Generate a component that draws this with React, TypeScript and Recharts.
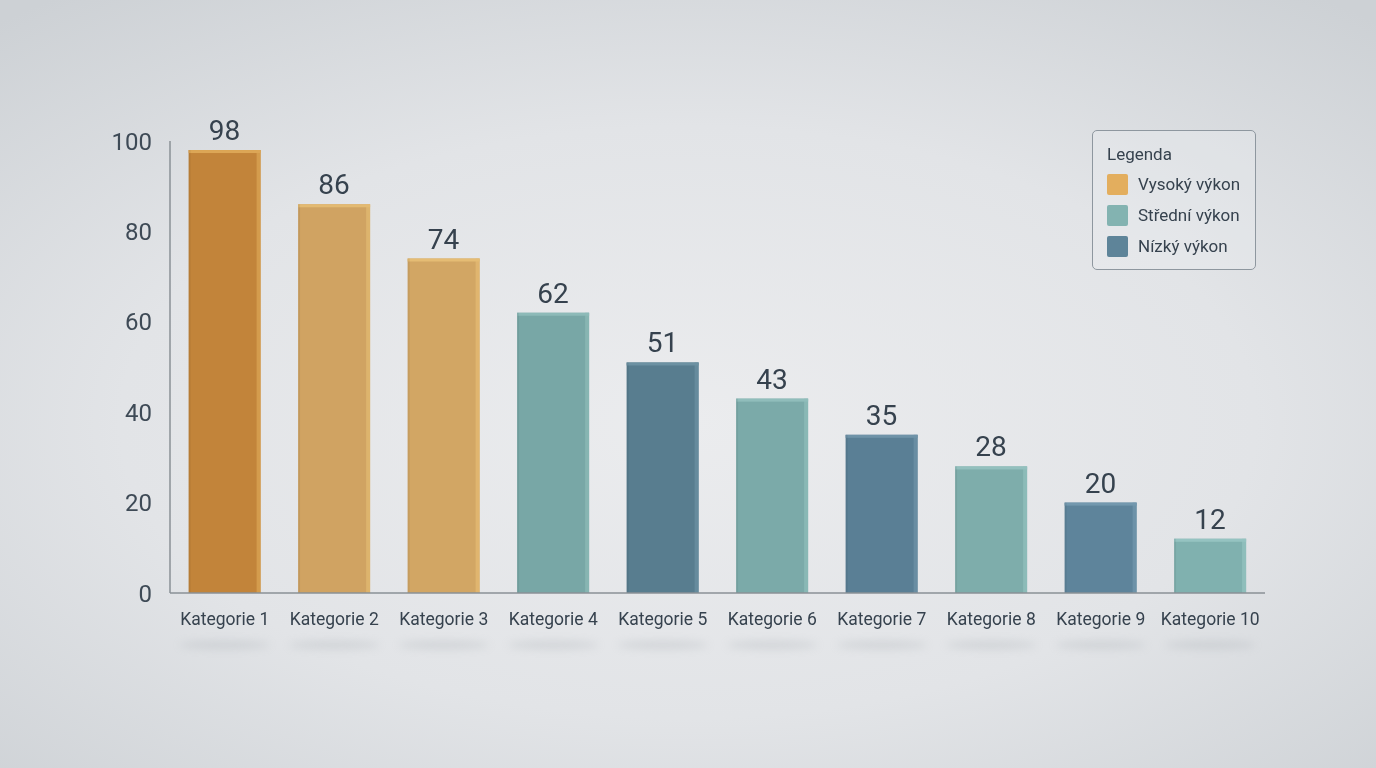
import React from 'react';
import { BarChart, Bar, XAxis, YAxis, Cell, LabelList, Legend } from 'recharts';

const categories = ['Kategorie 1', 'Kategorie 2', 'Kategorie 3', 'Kategorie 4', 'Kategorie 5', 'Kategorie 6', 'Kategorie 7', 'Kategorie 8', 'Kategorie 9', 'Kategorie 10'];
const values = [98, 86, 74, 62, 51, 43, 35, 28, 20, 12];
const groups = ['high', 'high', 'high', 'mid', 'low', 'mid', 'low', 'mid', 'low', 'mid'];
const yTicks = [0, 20, 40, 60, 80, 100];
const legendLabels = ['Vysoký výkon', 'Střední výkon', 'Nízký výkon'];

const barFills = ['#C2843A', '#D0A362', '#D2A664', '#78A7A6', '#587D8F', '#7BAAA9', '#5A7F95', '#7EADAB', '#5E849B', '#80B1AF'];
const barEdges = ['#DCA656', '#E3BA72', '#E5BC74', '#8DBAB8', '#6C91A2', '#90BDBB', '#6F93A8', '#93C0BE', '#7398AE', '#95C3C1'];
const legendColors = ['#E3AE5E', '#83B3B1', '#5E8499'];

const data = categories.map((c, i) => ({ name: c, value: values[i], group: groups[i] }));

const FONT = 'Roboto, "Noto Sans", sans-serif';

const BarShape = (props: any) => {
  const { x, y, width, height, index } = props;
  const fill = barFills[index];
  const edge = barEdges[index];
  return (
    <g>
      <rect x={x} y={y} width={width} height={height} fill={fill} />
      <rect x={x + width - 4} y={y} width={4} height={height} fill={edge} opacity={0.7} />
      <rect x={x} y={y} width={width} height={3} fill={edge} />
      <rect x={x} y={y} width={2} height={height} fill="#000" opacity={0.06} />
    </g>
  );
};

const XTick = (props: any) => {
  const { x, y, payload } = props;
  return (
    <g>
      <ellipse cx={x} cy={y + 32} rx={46} ry={4} fill="#9AA0A6" opacity={0.25} filter="url(#shadowBlur)" />
      <text x={x} y={y + 12} textAnchor="middle" fill="#36424E" fontSize={17.5} fontFamily={FONT}>
        {payload.value}
      </text>
    </g>
  );
};

const LegendBox = () => (
  <div
    style={{
      position: 'relative',
      width: 164,
      height: 140,
      boxSizing: 'border-box',
      border: '1px solid #8E979F',
      borderRadius: 5,
      background: 'rgba(236,238,240,0.35)',
      fontFamily: FONT,
      color: '#36424E',
    }}
  >
    <div style={{ position: 'absolute', left: 14, top: 13, fontSize: 17, lineHeight: '20px' }}>Legenda</div>
    {legendLabels.map((l, i) => (
      <div key={l} style={{ position: 'absolute', left: 14, top: 43 + i * 31, height: 21, display: 'flex', alignItems: 'center' }}>
        <div style={{ width: 21, height: 21, background: legendColors[i], borderRadius: 2, marginRight: 10 }} />
        <span style={{ fontSize: 17, lineHeight: '21px', whiteSpace: 'nowrap' }}>{l}</span>
      </div>
    ))}
  </div>
);

export default function App() {
  return (
    <div
      style={{
        position: 'fixed',
        left: 0,
        top: 0,
        width: 1376,
        height: 768,
        overflow: 'hidden',
        background:
          'radial-gradient(ellipse 75% 70% at 50% 55%, #EBECEE 0%, #E2E4E7 55%, #CDD1D5 100%)',
      }}
    >
      <BarChart
        width={1376}
        height={768}
        data={data}
        margin={{ top: 141, right: 111, bottom: 145, left: 110 }}
        barCategoryGap="17%"
      >
        <defs>
          <filter id="shadowBlur" x="-50%" y="-300%" width="200%" height="700%">
            <feGaussianBlur stdDeviation="4" />
          </filter>
        </defs>
        <XAxis
          dataKey="name"
          height={30}
          interval={0}
          tickLine={false}
          tickSize={0}
          tickMargin={20}
          axisLine={{ stroke: '#8A9096', strokeWidth: 1.5 }}
          tick={<XTick />}
        />
        <YAxis
          width={60}
          domain={[0, 100]}
          ticks={yTicks}
          interval={0}
          tickLine={false}
          tickSize={0}
          tickMargin={18}
          axisLine={{ stroke: '#8A9096', strokeWidth: 1.5 }}
          tick={{ fill: '#3E4A56', fontSize: 24, fontFamily: FONT }}
        />
        <Legend
          layout="horizontal"
          verticalAlign="middle"
          align="center"
          content={<LegendBox />}
          wrapperStyle={{ left: 1092, top: 130, width: 164, height: 140 }}
        />
        <Bar dataKey="value" isAnimationActive={false} shape={<BarShape />}>
          {data.map((d, i) => (
            <Cell key={d.name} fill={barFills[i]} />
          ))}
          <LabelList
            dataKey="value"
            position="top"
            offset={10}
            fill="#36424E"
            fontSize={28}
            fontFamily={FONT}
          />
        </Bar>
      </BarChart>
    </div>
  );
}
